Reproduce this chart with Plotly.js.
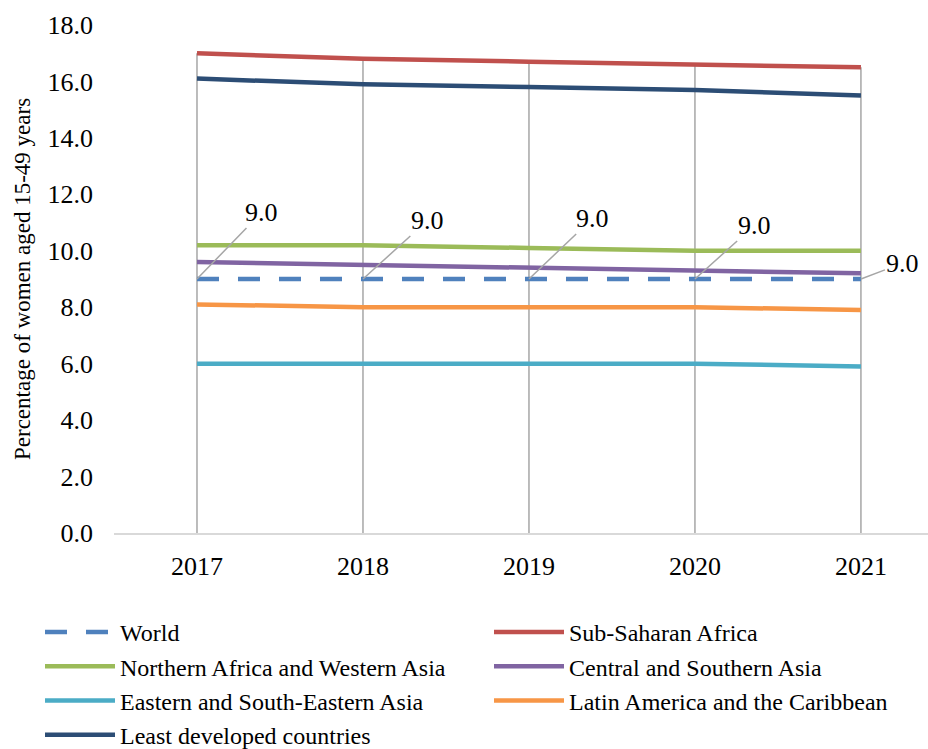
<!DOCTYPE html>
<html>
<head>
<meta charset="utf-8">
<script src="https://cdn.plot.ly/plotly-3.0.1.min.js"></script>
<style>
  html, body { margin: 0; padding: 0; background: #ffffff; }
  #chart { width: 928px; height: 749px; }
</style>
</head>
<body>
<div id="chart"></div>
<script>
// ---- Data ----
const years = ['2017', '2018', '2019', '2020', '2021'];
const seriesNames = [
  'World',
  'Sub-Saharan Africa',
  'Northern Africa and Western Asia',
  'Central and Southern Asia',
  'Eastern and South-Eastern Asia',
  'Latin America and the Caribbean',
  'Least developed countries'
];
const world      = [9.0, 9.0, 9.0, 9.0, 9.0];
const subSaharan = [17.0, 16.8, 16.7, 16.6, 16.5];
const nAfricaWAsia = [10.2, 10.2, 10.1, 10.0, 10.0];
const cSAsia     = [9.6, 9.5, 9.4, 9.3, 9.2];
const eSEAsia    = [6.0, 6.0, 6.0, 6.0, 5.9];
const latAm      = [8.1, 8.0, 8.0, 8.0, 7.9];
const ldc        = [16.1, 15.9, 15.8, 15.7, 15.5];
const yTickVals  = [0, 2, 4, 6, 8, 10, 12, 14, 16, 18];
const yTitle     = 'Percentage of women aged 15-49 years';

// ---- Styles ----
const colors = ['#4F81BD', '#C0504D', '#9BBB59', '#8064A2', '#4BACC6', '#F79646', '#2C4D75'];
const allSeries = [world, subSaharan, nAfricaWAsia, cSAsia, eSEAsia, latAm, ldc];
const xIdx = years.map((_, i) => i);
const FONT = '"Liberation Serif", "Times New Roman", Times, serif';

// Drop lines from the highest series value down to the axis
const dropX = [], dropY = [];
xIdx.forEach(i => {
  const mx = Math.max(...allSeries.map(s => s[i]));
  dropX.push(i, i, null);
  dropY.push(mx, 0, null);
});

const traces = [{
  x: dropX, y: dropY, mode: 'lines', type: 'scatter',
  line: { color: '#A6A6A6', width: 1.5 },
  showlegend: false, hoverinfo: 'skip'
}];

// two-column legend: even indices in the left column, odd in the right
allSeries.forEach((s, k) => {
  traces.push({
    x: xIdx, y: s, name: seriesNames[k], type: 'scatter', mode: 'lines',
    legend: (k % 2 === 0) ? 'legend' : 'legend2',
    line: {
      color: colors[k], width: 4.5,
      dash: k === 0 ? '22px,19px' : 'solid',
      shape: 'linear'
    }
  });
});

// Data labels for World with leader lines
const labelOffsets = [[65, -67], [65, -59], [64, -61], [60, -54], [42, -16]];
const annotations = world.map((v, i) => ({
  x: i, y: v, xref: 'x', yref: 'y',
  text: v.toFixed(1),
  showarrow: true, arrowhead: 0, arrowwidth: 1.5, arrowcolor: '#A6A6A6',
  ax: labelOffsets[i][0], ay: labelOffsets[i][1],
  font: { family: FONT, size: 26, color: '#000000' },
  standoff: 0, startstandoff: 0
}));

// y-axis title as a rotated annotation in the left margin
annotations.push({
  xref: 'paper', yref: 'paper',
  x: (22 - 114) / 814, y: 0.5,
  xanchor: 'center', yanchor: 'middle',
  text: yTitle, textangle: -90, showarrow: false,
  font: { family: FONT, size: 23, color: '#000000' }
});

const legendBase = {
  orientation: 'v',
  xref: 'container', yref: 'container',
  xanchor: 'left',
  y: 1 - 610 / 749, yanchor: 'top',
  itemwidth: 70,
  font: { family: FONT, size: 24, color: '#000000' },
  bgcolor: 'rgba(0,0,0,0)', traceorder: 'normal'
};

const layout = {
  width: 928, height: 749,
  paper_bgcolor: '#ffffff', plot_bgcolor: '#ffffff',
  margin: { l: 114, r: 0, t: 25, b: 216, autoexpand: false },
  font: { family: FONT, color: '#000000' },
  showlegend: true,
  xaxis: {
    range: [-0.5, 4.404],
    tickvals: xIdx, ticktext: years,
    showgrid: false, zeroline: false,
    showline: true, linecolor: '#D9D9D9', linewidth: 2,
    ticks: '', ticklabelstandoff: 9,
    tickfont: { family: FONT, size: 26, color: '#000000' },
    fixedrange: true
  },
  yaxis: {
    range: [0, 18],
    tickvals: yTickVals, tickformat: '.1f',
    showgrid: false, zeroline: false, showline: false,
    ticks: '', ticklabelstandoff: 20,
    tickfont: { family: FONT, size: 26, color: '#000000' },
    fixedrange: true
  },
  legend: Object.assign({}, legendBase, { x: 40 / 928 }),
  legend2: Object.assign({}, legendBase, { x: 489 / 928 }),
  annotations: annotations
};

Plotly.newPlot('chart', traces, layout, { displayModeBar: false, staticPlot: true });
</script>
</body>
</html>
